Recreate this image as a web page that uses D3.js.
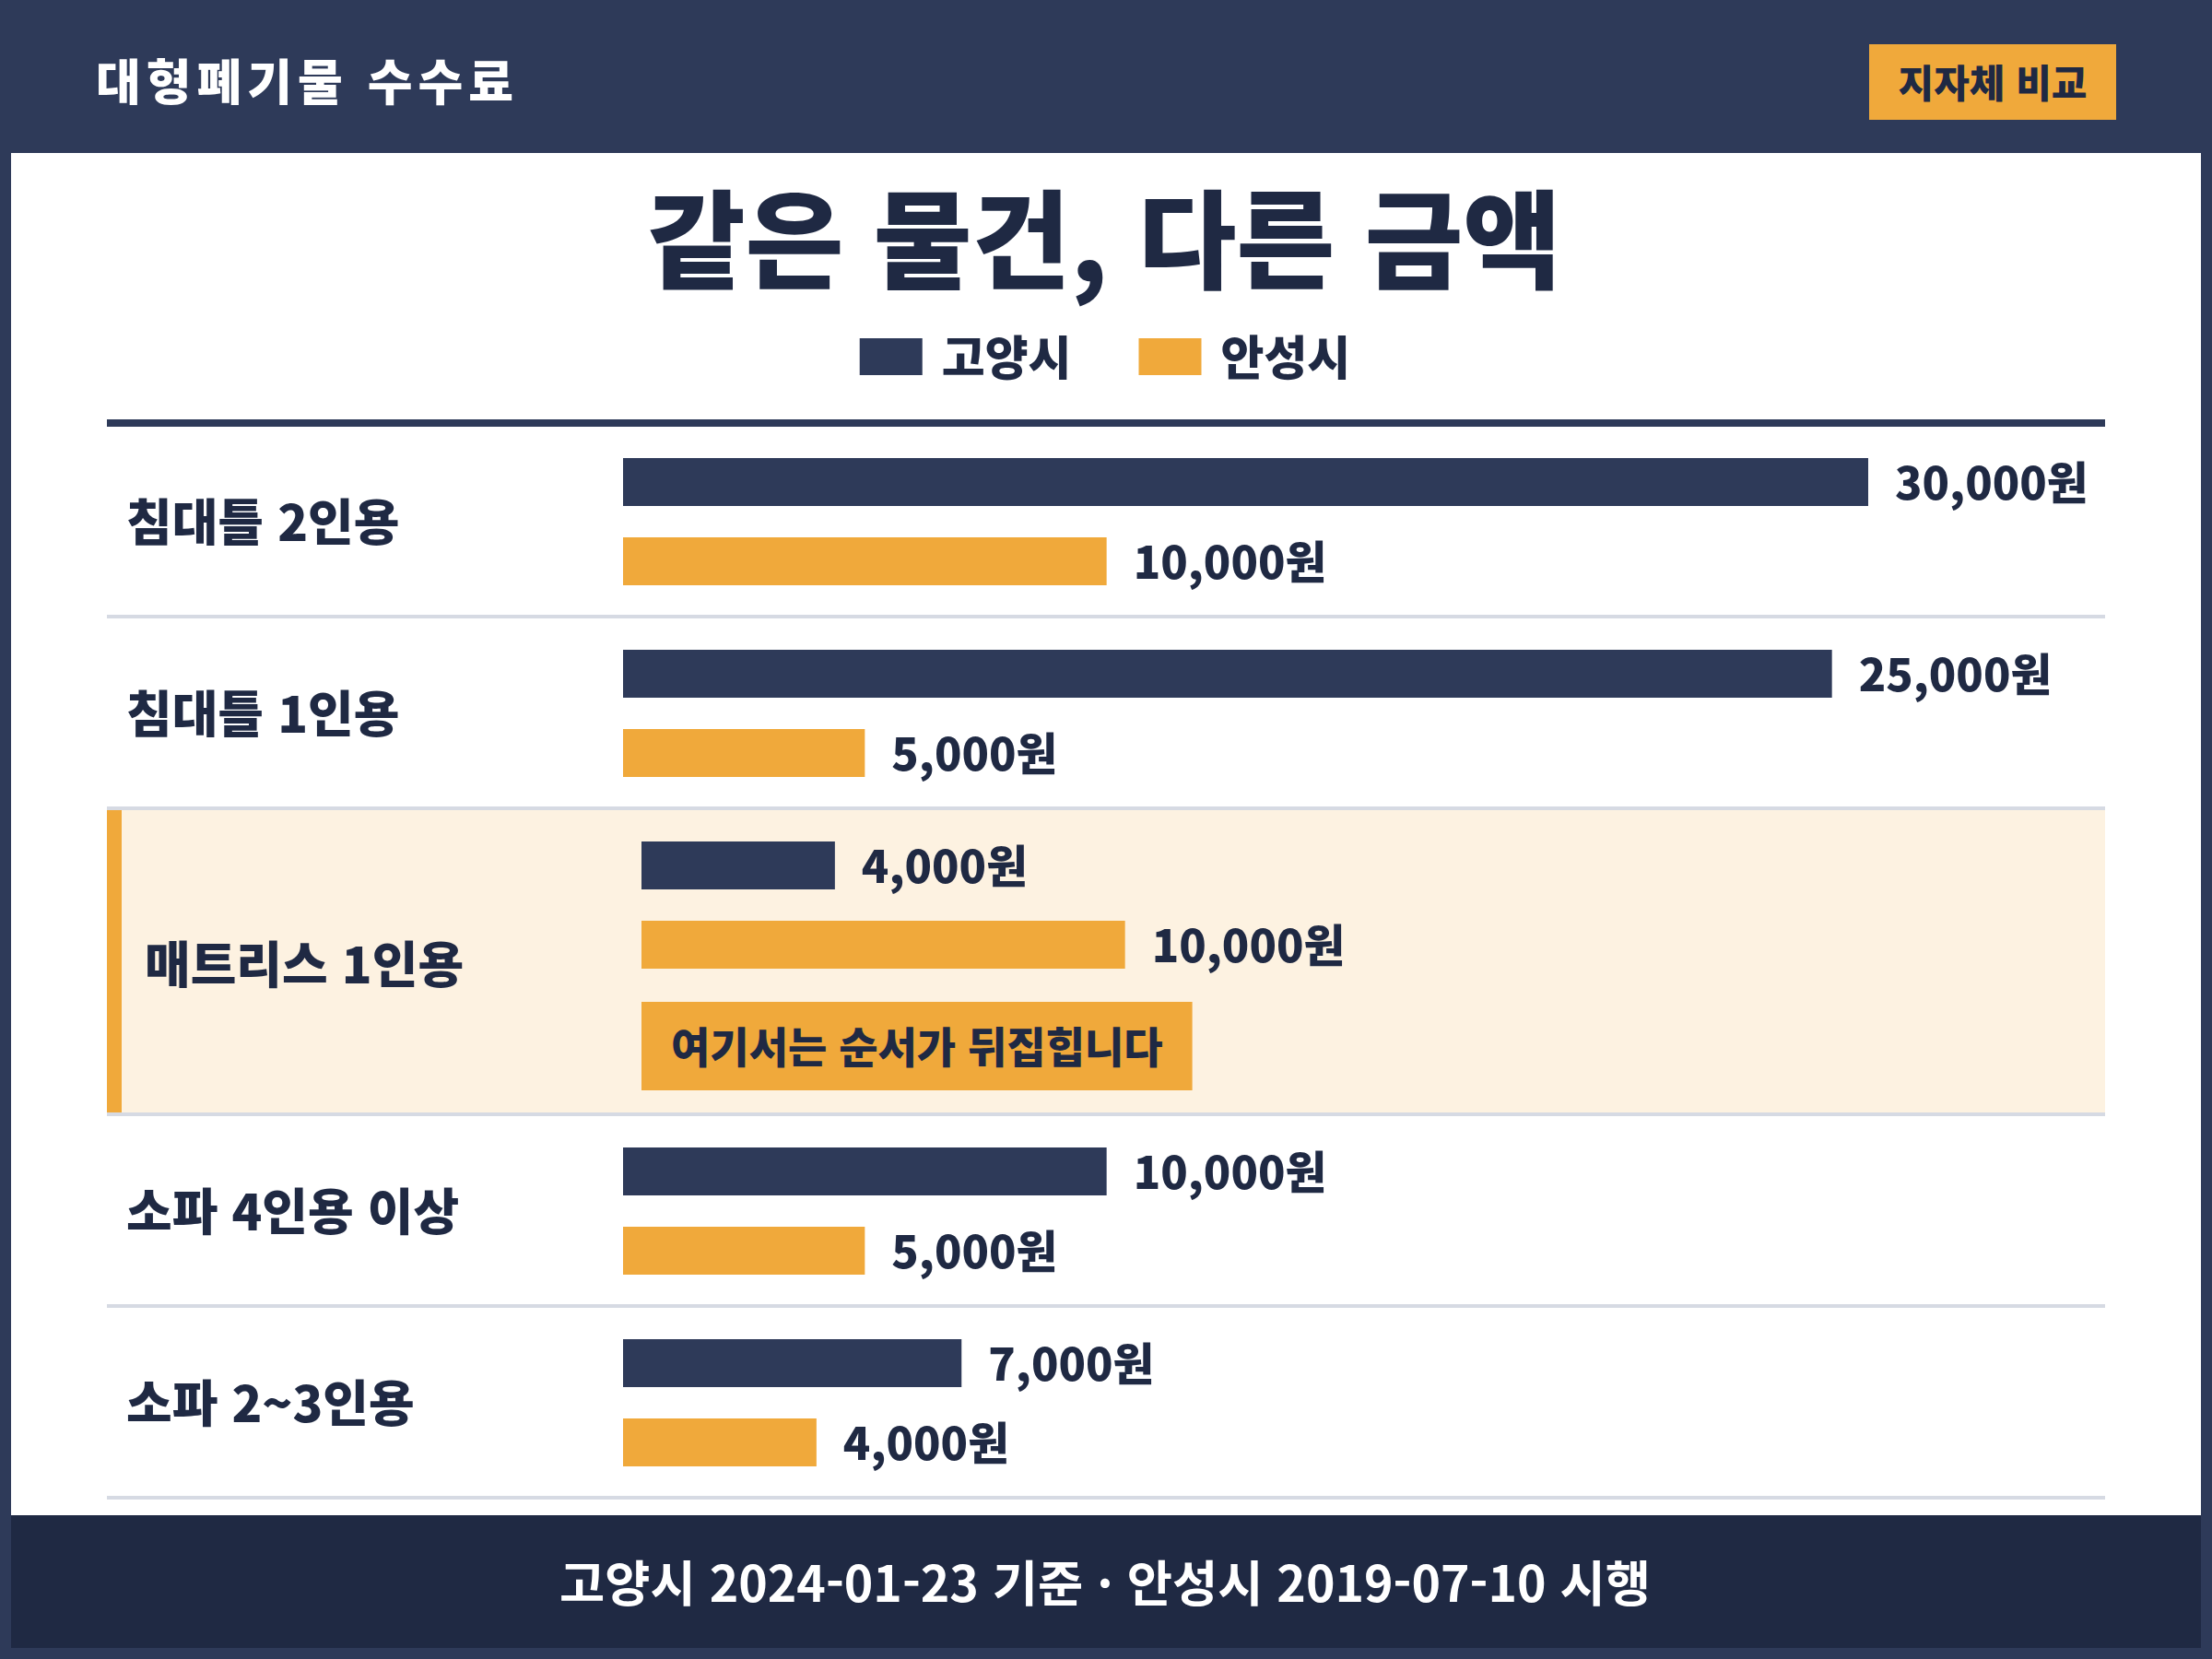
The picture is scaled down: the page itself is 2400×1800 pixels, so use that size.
<!DOCTYPE html>
<html lang="ko">
<head>
<meta charset="utf-8">
<script src="https://cdn.jsdelivr.net/npm/d3@7"></script>
<style>
  html, body { margin: 0; padding: 0; background: #2e3a59; }
  svg { display: block; font-family: "Noto Sans CJK KR", "Noto Sans", sans-serif; }
</style>
</head>
<body>
<svg id="chart" width="2400" height="1800"></svg>
<script>
// data
const items = ['침대틀 2인용', '침대틀 1인용', '매트리스 1인용', '소파 4인용 이상', '소파 2~3인용'];
const goyang = [30000, 25000, 4000, 10000, 7000];
const anseong = [10000, 5000, 10000, 5000, 4000];
const cities = ['고양시', '안성시'];
const highlightItem = '매트리스 1인용';
const highlightNote = '여기서는 순서가 뒤집힙니다';
const headerTitle = '대형폐기물 수수료';
const badgeText = '지자체 비교';
const mainTitle = '같은 물건, 다른 금액';
const footerText = '고양시 2024-01-23 기준 · 안성시 2019-07-10 시행';

const W = 2400, H = 1800;
const NAVY = '#2e3a59', DARK = '#1f2943', ORANGE = '#f0a93b';
const CREAM = '#fdf2e1', RULE = '#d6dae3';
const colors = [NAVY, ORANGE];

const svg = d3.select('#chart');

// frame
svg.append('rect').attr('width', W).attr('height', H).attr('fill', NAVY);
svg.append('rect').attr('x', 12).attr('y', 166).attr('width', W - 24).attr('height', 1478).attr('fill', '#ffffff');
svg.append('rect').attr('x', 12).attr('y', 1644).attr('width', W - 24).attr('height', 144).attr('fill', DARK);

// header
svg.append('text')
  .attr('x', 104).attr('y', 86)
  .attr('dominant-baseline', 'central')
  .attr('fill', '#ffffff')
  .attr('font-size', 53).attr('font-weight', 800)
  .attr('letter-spacing', 6)
  .text(headerTitle);

svg.append('rect').attr('x', 2028).attr('y', 48).attr('width', 268).attr('height', 82).attr('fill', ORANGE);
svg.append('text')
  .attr('x', 2162).attr('y', 87)
  .attr('text-anchor', 'middle').attr('dominant-baseline', 'central')
  .attr('fill', DARK)
  .attr('font-size', 42).attr('font-weight', 800)
  .text(badgeText);

// main title
svg.append('text')
  .attr('x', 1198).attr('y', 253)
  .attr('text-anchor', 'middle').attr('dominant-baseline', 'central')
  .attr('fill', DARK)
  .attr('font-size', 116).attr('font-weight', 900)
  .text(mainTitle);

// legend, centred as a group
const legend = svg.append('g');
let lx = 0;
cities.forEach((c, i) => {
  const g = legend.append('g').attr('transform', `translate(${lx},0)`);
  g.append('rect').attr('x', 0).attr('y', -20).attr('width', 68).attr('height', 40).attr('fill', colors[i]);
  const t = g.append('text')
    .attr('x', 89).attr('y', -2)
    .attr('dominant-baseline', 'central')
    .attr('fill', DARK)
    .attr('font-size', 51).attr('font-weight', 800)
    .text(c);
  lx += 89 + t.node().getComputedTextLength() + 73;
});
const legendW = lx - 73;
legend.attr('transform', `translate(${1199 - legendW / 2},387)`);

// thick rule
svg.append('rect').attr('x', 116).attr('y', 455).attr('width', 2168).attr('height', 8).attr('fill', NAVY);

// bars
const x = d3.scaleLinear().domain([0, 25750]).range([0, 1351]).clamp(true);

const rowH = 204, hlH = 328, sep = 4;
const barH = 52;
let y = 463;

items.forEach((item, i) => {
  const hl = item === highlightItem;
  const h = hl ? hlH : rowH;
  const shift = hl ? 20 : 0;
  const barX = 676 + shift;
  const g = svg.append('g').attr('transform', `translate(0,${y})`);

  if (hl) {
    g.append('rect').attr('x', 116).attr('y', 0).attr('width', 2168).attr('height', h).attr('fill', CREAM);
    g.append('rect').attr('x', 116).attr('y', 0).attr('width', 16).attr('height', h).attr('fill', ORANGE);
  }

  g.append('text')
    .attr('x', 137 + shift).attr('y', (hl ? 166 : h / 2) - 2)
    .attr('dominant-baseline', 'central')
    .attr('fill', DARK)
    .attr('font-size', 54).attr('font-weight', 800)
    .text(item);

  const vals = [goyang[i], anseong[i]];
  vals.forEach((v, j) => {
    const by = 34 + j * 86;
    g.append('rect')
      .attr('x', barX).attr('y', by)
      .attr('width', x(v)).attr('height', barH)
      .attr('fill', colors[j]);
    g.append('text')
      .attr('x', barX + x(v) + 29).attr('y', by + barH / 2 - 2)
      .attr('dominant-baseline', 'central')
      .attr('fill', DARK)
      .attr('font-size', 48.5).attr('font-weight', 800)
      .text(d3.format(',')(v) + '원');
  });

  if (hl) {
    const box = g.append('rect').attr('x', barX).attr('y', 208).attr('height', 96).attr('fill', ORANGE);
    const t = g.append('text')
      .attr('x', barX + 32).attr('y', 254)
      .attr('dominant-baseline', 'central')
      .attr('fill', DARK)
      .attr('font-size', 46).attr('font-weight', 800)
      .text(highlightNote);
    box.attr('width', t.node().getComputedTextLength() + 64);
  }

  y += h;
  svg.append('rect').attr('x', 116).attr('y', y).attr('width', 2168).attr('height', sep).attr('fill', RULE);
  y += sep;
});

// footer
svg.append('text')
  .attr('x', 1199).attr('y', 1714)
  .attr('text-anchor', 'middle').attr('dominant-baseline', 'central')
  .attr('fill', '#ffffff')
  .attr('font-size', 53.5).attr('font-weight', 700)
  .text(footerText);
</script>
</body>
</html>
